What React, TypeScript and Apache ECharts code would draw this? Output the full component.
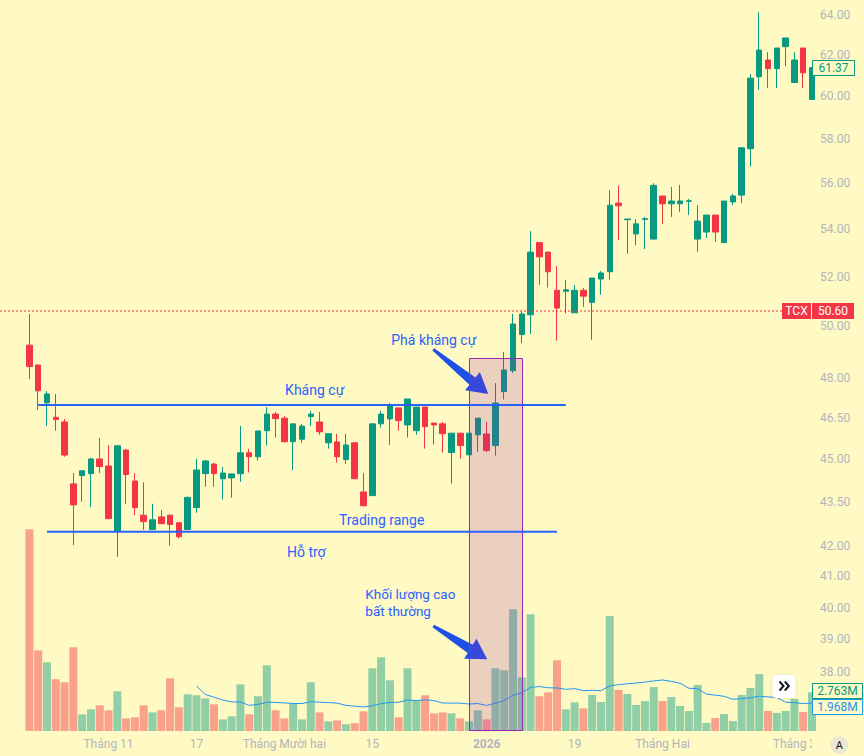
import React, { useEffect, useRef } from "react";
import * as echarts from "echarts";

// ---------------- DATA ----------------
const DATES: string[] = [
  "2025-10-21", "2025-10-22", "2025-10-23", "2025-10-24", "2025-10-27", "2025-10-28", "2025-10-29", "2025-10-30", "2025-10-31",
  "2025-11-03", "2025-11-04", "2025-11-05", "2025-11-06", "2025-11-07", "2025-11-10", "2025-11-11", "2025-11-12", "2025-11-13", "2025-11-14",
  "2025-11-17", "2025-11-18", "2025-11-19", "2025-11-20", "2025-11-21", "2025-11-24", "2025-11-25", "2025-11-26", "2025-11-27", "2025-11-28",
  "2025-12-01", "2025-12-02", "2025-12-03", "2025-12-04", "2025-12-05", "2025-12-08", "2025-12-09", "2025-12-10", "2025-12-11", "2025-12-12",
  "2025-12-15", "2025-12-16", "2025-12-17", "2025-12-18", "2025-12-19", "2025-12-22", "2025-12-23", "2025-12-24", "2025-12-25", "2025-12-26",
  "2025-12-29", "2025-12-30", "2025-12-31",
  "2026-01-05", "2026-01-06", "2026-01-07", "2026-01-08", "2026-01-09", "2026-01-12", "2026-01-13", "2026-01-14", "2026-01-15", "2026-01-16",
  "2026-01-19", "2026-01-20", "2026-01-21", "2026-01-22", "2026-01-23", "2026-01-26", "2026-01-27", "2026-01-28", "2026-01-29", "2026-01-30",
  "2026-02-02", "2026-02-03", "2026-02-04", "2026-02-05", "2026-02-06", "2026-02-09", "2026-02-10", "2026-02-11", "2026-02-12", "2026-02-13",
  "2026-02-23", "2026-02-24", "2026-02-25", "2026-02-26", "2026-02-27", "2026-03-02", "2026-03-03", "2026-03-04",
];

const OPEN: number[] = [
  49.25, 48.48, 47.05, 46.51, 46.34, 44.12, 44.41, 44.48, 45.0, 44.75,
  42.5, 45.32, 44.22, 43.04, 42.55, 42.98, 43.04, 42.78, 42.55, 43.3,
  44.48, 44.82, 44.3, 44.33, 44.48, 45.22, 45.08, 46.02, 46.63, 46.48,
  45.62, 45.71, 46.54, 46.34, 45.58, 45.61, 44.98, 45.58, 43.84, 43.71,
  46.27, 46.45, 46.86, 46.23, 46.02, 46.89, 46.3, 46.27, 45.23, 45.93,
  45.15, 45.87, 45.9, 45.48, 47.47, 48.26, 49.67, 50.45, 53.42, 53.02,
  51.44, 51.4, 50.53, 51.44, 50.95, 51.9, 52.2, 55.12, 54.4, 53.79,
  54.41, 53.57, 55.43, 55.09, 55.09, 55.2, 53.57, 53.87, 54.6, 53.42,
  55.17, 55.47, 57.55, 60.93, 61.74, 61.32, 62.4, 60.65, 62.33, 59.84,
];
const HIGH: number[] = [
  50.48, 48.5, 47.49, 47.38, 46.45, 44.5, 44.6, 45.04, 45.76, 45.5,
  45.5, 45.36, 44.5, 44.18, 43.43, 43.22, 43.04, 42.78, 43.68, 45.0,
  44.96, 44.86, 44.72, 44.47, 46.19, 45.36, 46.01, 46.89, 46.71, 46.56,
  46.27, 46.27, 46.75, 46.71, 45.91, 45.9, 45.9, 45.58, 44.5, 46.27,
  46.75, 47.04, 46.86, 47.19, 46.89, 46.89, 46.3, 46.34, 45.93, 45.93,
  45.93, 46.48, 46.34, 47.79, 48.98, 50.48, 50.61, 53.91, 53.42, 53.02,
  52.43, 51.86, 51.65, 51.53, 51.94, 52.23, 55.69, 55.9, 54.43, 54.43,
  54.52, 55.99, 55.43, 55.83, 55.92, 55.3, 55.03, 54.6, 54.6, 55.21,
  55.52, 57.59, 61.05, 64.13, 62.13, 62.33, 62.83, 62.13, 62.33, 61.37,
];
const LOW: number[] = [
  47.94, 46.78, 46.19, 46.02, 45.08, 42.03, 43.5, 43.32, 44.5, 42.9,
  41.64, 43.43, 43.04, 42.54, 42.54, 42.74, 42.01, 42.25, 42.55, 43.12,
  44.02, 44.02, 43.58, 43.64, 44.19, 44.52, 44.94, 45.48, 45.77, 45.58,
  44.61, 45.58, 46.19, 45.87, 45.37, 44.87, 44.83, 44.29, 43.35, 43.7,
  46.13, 45.5, 46.02, 45.77, 45.87, 45.37, 45.52, 45.23, 44.13, 45.01,
  45.15, 45.26, 45.25, 45.12, 47.17, 48.18, 49.33, 49.69, 51.66, 51.55,
  49.42, 50.51, 50.53, 50.77, 49.46, 51.26, 51.87, 53.53, 52.95, 53.31,
  53.15, 53.57, 54.22, 54.52, 54.73, 54.6, 53.02, 53.62, 53.45, 53.42,
  55.03, 55.12, 56.74, 60.29, 60.38, 60.38, 61.44, 60.65, 60.38, 59.84,
];
const CLOSE: number[] = [
  48.42, 47.5, 47.38, 46.43, 45.14, 43.39, 44.58, 45.0, 44.73, 42.92,
  45.47, 44.45, 43.3, 42.82, 42.88, 42.75, 42.72, 42.31, 43.65, 44.61,
  44.93, 44.48, 44.5, 44.47, 45.22, 45.08, 46.01, 46.63, 46.46, 45.62,
  46.27, 46.19, 46.63, 45.98, 45.91, 45.08, 45.5, 44.3, 43.36, 46.27,
  46.63, 46.97, 46.39, 47.19, 46.89, 46.17, 46.23, 45.91, 45.93, 45.48,
  45.93, 46.48, 45.3, 47.04, 48.29, 50.08, 50.48, 53.02, 52.82, 52.2,
  50.72, 51.46, 51.44, 51.2, 51.94, 52.15, 55.03, 55.0, 54.43, 54.22,
  54.44, 55.9, 55.09, 55.21, 55.21, 55.22, 54.34, 54.6, 53.87, 55.21,
  55.43, 57.59, 60.86, 62.23, 61.32, 62.33, 62.83, 61.74, 61.12, 61.37,
];
// volume in millions of shares
const VOLUME: number[] = [
  14.4, 5.76, 4.9, 3.69, 3.48, 5.98, 1.19, 1.55, 1.83, 1.48,
  2.83, 0.9, 0.98, 1.83, 1.33, 1.48, 3.76, 1.69, 2.62, 2.55,
  2.33, 1.9, 0.83, 1.05, 3.33, 1.19, 2.48, 4.69, 1.48, 0.9,
  1.98, 0.83, 3.48, 1.33, 0.69, 0.76, 0.48, 0.55, 1.4, 4.48,
  5.26, 3.62, 0.98, 4.48, 2.19, 2.55, 1.26, 1.33, 1.26, 0.9,
  0.69, 1.48, 0.83, 4.48, 4.33, 8.69, 3.83, 8.33, 2.48, 2.76,
  5.05, 1.55, 2.05, 1.62, 2.57, 2.07, 8.21, 2.93, 2.64, 1.86,
  2.14, 3.14, 2.14, 2.43, 1.79, 1.43, 3.29, 0.57, 0.93, 1.21,
  0.71, 2.57, 3.07, 4.07, 1.43, 1.29, 1.43, 2.29, 1.36, 2.763,
];
const PRICE_TICKS: number[] = [38, 39, 40, 41, 42, 43.5, 45, 46.5, 48, 50, 52, 54, 56, 58, 60, 62, 64];
const TIME_LABELS: Record<string, string> = {
  "2025-11-03": "Tháng 11",
  "2025-11-17": "17",
  "2025-12-01": "Tháng Mười hai",
  "2025-12-15": "15",
  "2026-01-05": "2026",
  "2026-01-19": "19",
  "2026-02-02": "Tháng Hai",
  "2026-03-02": "Tháng 3",
};
const COMPARE_SYMBOL = "TCX";
const COMPARE_PRICE = 50.6;
const VOLUME_LAST_LABEL = "2.763M";
const VOLUME_MA_LABEL = "1.968M";
const MA_PERIOD = 20;
const PRICE_AXIS_MIN = 36.27;
const PRICE_AXIS_MAX = 64.75;
const VOLUME_AXIS_MAX = 52.2;
const RESISTANCE = { from: "2025-10-22", to: "2026-01-16", price: 46.97 };
const SUPPORT = { from: "2025-10-23", to: "2026-01-15", price: 42.48 };
const BREAKOUT_BOX = { from: "2025-12-30", to: "2026-01-09", top: 48.74, bottom: 36.3 };

// ---------------- STYLE ----------------
const BG = "#FFF9C4";
const UP = "#089981";
const DOWN = "#F23645";
const UP_VOL = "rgba(8,153,129,0.45)";
const DOWN_VOL = "rgba(242,54,69,0.45)";
const AXIS_TEXT = "#B2B5BE";
const BLUE = "#2962FF";
const ARROW_BLUE = "#1E50E6";
const MA_BLUE = "#2196F3";
const FONT = "Roboto";
const PAD = 3;
const GRID_LEFT = 3;
const GRID_RIGHT = 52;
const GRID_BOTTOM = 25;
const W = 864;
const H = 756;
const PLOT_RIGHT = W - GRID_RIGHT;

function arrowPoints(tail: number[], tip: number[], headLen: number, headHalf: number, tailHalf: number, neckHalf: number) {
  const dx = tip[0] - tail[0];
  const dy = tip[1] - tail[1];
  const L = Math.hypot(dx, dy);
  const ux = dx / L, uy = dy / L;
  const nx = -uy, ny = ux;
  const bx = tip[0] - ux * headLen, by = tip[1] - uy * headLen;
  return [
    [tail[0] + nx * tailHalf, tail[1] + ny * tailHalf],
    [bx + nx * neckHalf, by + ny * neckHalf],
    [bx + nx * headHalf, by + ny * headHalf],
    [tip[0], tip[1]],
    [bx - nx * headHalf, by - ny * headHalf],
    [bx - nx * neckHalf, by - ny * neckHalf],
    [tail[0] - nx * tailHalf, tail[1] - ny * tailHalf],
  ];
}

export default function App() {
  const ref = useRef<HTMLDivElement>(null);

  useEffect(() => {
    document.body.style.margin = "0";
    document.body.style.background = BG;
    const chart = echarts.init(ref.current as HTMLDivElement, null, { renderer: "svg" });

    const pads = Array.from({ length: PAD }, (_, i) => `pad${i}`);
    const cats = [...pads, ...DATES];
    const candleData = [
      ...pads.map(() => ["-", "-", "-", "-"]),
      ...DATES.map((_, i) => [Math.log(OPEN[i]), Math.log(CLOSE[i]), Math.log(LOW[i]), Math.log(HIGH[i])]),
    ];
    const volData = [
      ...pads.map(() => "-"),
      ...VOLUME.map((v, i) => ({ value: v, itemStyle: { color: CLOSE[i] >= OPEN[i] ? UP_VOL : DOWN_VOL } })),
    ];
    const maData = [
      ...pads.map(() => "-"),
      ...VOLUME.map((_, i) => {
        if (i < MA_PERIOD - 1) return "-";
        let s = 0;
        for (let k = i - MA_PERIOD + 1; k <= i; k++) s += VOLUME[k];
        return s / MA_PERIOD;
      }),
    ];
    const boxData = [[
      DATES.indexOf(BREAKOUT_BOX.from) + PAD,
      DATES.indexOf(BREAKOUT_BOX.to) + PAD,
      Math.log(BREAKOUT_BOX.top),
      Math.log(BREAKOUT_BOX.bottom),
    ]];

    const option: any = {
      animation: false,
      backgroundColor: BG,
      textStyle: { fontFamily: FONT },
      grid: [
        { left: GRID_LEFT, right: GRID_RIGHT, top: 0, bottom: GRID_BOTTOM },
        { left: GRID_LEFT, right: GRID_RIGHT, top: 0, bottom: GRID_BOTTOM },
      ],
      xAxis: [
        {
          type: "category", gridIndex: 0, data: cats, boundaryGap: false,
          axisLine: { show: false }, axisTick: { show: false }, splitLine: { show: false },
          axisLabel: {
            interval: 0, margin: 7, color: AXIS_TEXT, fontSize: 12, fontFamily: FONT, hideOverlap: false,
            formatter: (v: string) => {
              const t = TIME_LABELS[v];
              if (!t) return "";
              return t === "2026" ? "{b|2026}" : t;
            },
            rich: { b: { fontWeight: "bold", color: AXIS_TEXT, fontSize: 12, fontFamily: FONT } },
          },
        },
        { type: "category", gridIndex: 1, data: cats, boundaryGap: false, show: false },
      ],
      yAxis: [
        {
          type: "value", gridIndex: 0, position: "right",
          min: Math.log(PRICE_AXIS_MIN), max: Math.log(PRICE_AXIS_MAX),
          axisLine: { show: false }, axisTick: { show: false }, splitLine: { show: false },
          axisLabel: {
            customValues: PRICE_TICKS.map((p) => Math.log(p)),
            formatter: (v: number) => Math.exp(v).toFixed(2),
            color: AXIS_TEXT, fontSize: 12, fontFamily: FONT, margin: 8,
          },
        },
        { type: "value", gridIndex: 1, min: 0, max: VOLUME_AXIS_MAX, show: false },
      ],
      series: [
        {
          type: "bar", name: "Volume", xAxisIndex: 1, yAxisIndex: 1, data: volData,
          barWidth: 8, z: 2, clip: true, silent: true,
        },
        {
          type: "line", name: "Volume MA", xAxisIndex: 1, yAxisIndex: 1, data: maData,
          symbol: "none", z: 3, clip: true, silent: true,
          lineStyle: { color: MA_BLUE, width: 1 },
        },
        {
          type: "candlestick", name: "Price", xAxisIndex: 0, yAxisIndex: 0, data: candleData,
          barWidth: 6, z: 3, clip: true, silent: true,
          itemStyle: { color: UP, color0: DOWN, borderColor: UP, borderColor0: DOWN, borderWidth: 1 },
        },
        {
          type: "custom", name: "Box", xAxisIndex: 0, yAxisIndex: 0, data: boxData, z: 5, silent: true,
          encode: { x: [0, 1], y: [2, 3] },
          renderItem: (_p: any, api: any) => {
            const a = api.coord([api.value(0), api.value(2)]);
            const b = api.coord([api.value(1), api.value(3)]);
            return {
              type: "rect",
              shape: { x: Math.round(a[0]) + 0.5, y: Math.round(a[1]) + 0.5, width: Math.round(b[0] - a[0]), height: Math.round(b[1] - a[1]) },
              style: { fill: "rgba(156,39,176,0.2)", stroke: "#9C27B0", lineWidth: 1 },
            };
          },
        },
      ],
    };
    chart.setOption(option);

    const lastClose = CLOSE[CLOSE.length - 1];
    const lastVol = VOLUME[VOLUME.length - 1];
    const yCmp = chart.convertToPixel({ yAxisIndex: 0 }, Math.log(COMPARE_PRICE)) as number;
    const yLast = chart.convertToPixel({ yAxisIndex: 0 }, Math.log(lastClose)) as number;
    const yVol = chart.convertToPixel({ yAxisIndex: 1 }, lastVol) as number;
    const r1 = chart.convertToPixel({ gridIndex: 0 }, [RESISTANCE.from, Math.log(RESISTANCE.price)]) as number[];
    const r2 = chart.convertToPixel({ gridIndex: 0 }, [RESISTANCE.to, Math.log(RESISTANCE.price)]) as number[];
    const s1 = chart.convertToPixel({ gridIndex: 0 }, [SUPPORT.from, Math.log(SUPPORT.price)]) as number[];
    const s2 = chart.convertToPixel({ gridIndex: 0 }, [SUPPORT.to, Math.log(SUPPORT.price)]) as number[];

    const annFont = `14px ${FONT}`;
    const lblFont = `12px ${FONT}`;
    const txt = (text: string, x: number, y: number, opts: any = {}) => ({
      type: "text", x, y, z: opts.z ?? 8, silent: true,
      style: {
        text, fill: opts.fill ?? BLUE, font: opts.font ?? annFont,
        textAlign: opts.align ?? "center", textVerticalAlign: "middle",
      },
    });

    const graphic: any[] = [
      // compare symbol price line
      { type: "line", z: 4, silent: true, shape: { x1: 0, y1: yCmp, x2: PLOT_RIGHT, y2: yCmp }, style: { stroke: DOWN, lineWidth: 1, lineDash: [2, 2] } },
      // resistance & support
      { type: "line", z: 7, silent: true, shape: { x1: r1[0], y1: r1[1], x2: r2[0], y2: r2[1] }, style: { stroke: BLUE, lineWidth: 2 } },
      { type: "line", z: 7, silent: true, shape: { x1: s1[0], y1: s1[1], x2: s2[0], y2: s2[1] }, style: { stroke: BLUE, lineWidth: 2 } },
      // annotation texts
      txt("Phá kháng cự", 433.8, 339.5),
      txt("Kháng cự", 314.7, 390),
      txt("Trading range", 381.7, 519.5),
      txt("Hỗ trợ", 306.3, 552),
      txt("Khối lượng cao", 365.3, 593.5, { align: "left", font: `13.5px ${FONT}` }),
      txt("bất thường", 365.3, 610.5, { align: "left", font: `13.5px ${FONT}` }),
      // arrows
      { type: "polygon", z: 4, silent: true, shape: { points: arrowPoints([433.3, 349.3], [488.3, 394], 20.4, 11.7, 1.4, 4.8) }, style: { fill: ARROW_BLUE } },
      { type: "polygon", z: 4, silent: true, shape: { points: arrowPoints([433.3, 626], [487.3, 659.3], 20, 11.8, 1.4, 4.8) }, style: { fill: ARROW_BLUE } },
      // compare symbol label
      { type: "rect", z: 20, silent: true, shape: { x: 782, y: yCmp - 8, width: 29, height: 16 }, style: { fill: DOWN } },
      txt(COMPARE_SYMBOL, 796.5, yCmp, { fill: "#FFFFFF", font: lblFont, z: 21 }),
      { type: "rect", z: 20, silent: true, shape: { x: 812, y: yCmp - 8, width: 42, height: 16 }, style: { fill: DOWN } },
      txt(COMPARE_PRICE.toFixed(2), 833, yCmp, { fill: "#FFFFFF", font: lblFont, z: 21 }),
      // last price label
      { type: "rect", z: 20, silent: true, shape: { x: 812.5, y: Math.round(yLast) - 7.5, width: 42, height: 15 }, style: { fill: BG, stroke: UP, lineWidth: 1 } },
      txt(lastClose.toFixed(2), 833.5, yLast, { fill: UP, font: lblFont, z: 21 }),
      // volume labels
      { type: "rect", z: 20, silent: true, shape: { x: 812.5, y: Math.round(yVol) - 8.5, width: 50, height: 15 }, style: { fill: BG, stroke: UP, lineWidth: 1 } },
      txt(VOLUME_LAST_LABEL, 837.5, Math.round(yVol) - 1, { fill: UP, font: lblFont, z: 21 }),
      { type: "rect", z: 20, silent: true, shape: { x: 812.5, y: Math.round(yVol) + 7.5, width: 50, height: 15 }, style: { fill: BG, stroke: MA_BLUE, lineWidth: 1 } },
      txt(VOLUME_MA_LABEL, 837.5, Math.round(yVol) + 15, { fill: MA_BLUE, font: lblFont, z: 21 }),
      // cover for time labels under the price scale
      { type: "rect", z: 15, silent: true, shape: { x: PLOT_RIGHT, y: H - GRID_BOTTOM + 2, width: GRID_RIGHT, height: GRID_BOTTOM }, style: { fill: BG } },
      // "A" auto-scale button
      { type: "circle", z: 16, silent: true, shape: { cx: 839.3, cy: 745, r: 9 }, style: { fill: "#ECE8D2" } },
      txt("A", 839.3, 745.5, { fill: "#131722", font: `11px ${FONT}`, z: 17 }),
      // scroll-to-realtime button
      { type: "rect", z: 16, silent: true, shape: { x: 772.5, y: 675, width: 23, height: 23, r: 4 }, style: { fill: "#FFFFFF", shadowBlur: 3, shadowColor: "rgba(0,0,0,0.12)" } },
      { type: "polyline", z: 17, silent: true, shape: { points: [[779.5, 681.5], [783.5, 686], [779.5, 690.5]] }, style: { stroke: "#131722", lineWidth: 2, fill: null } },
      { type: "polyline", z: 17, silent: true, shape: { points: [[784.8, 681.5], [788.8, 686], [784.8, 690.5]] }, style: { stroke: "#131722", lineWidth: 2, fill: null } },
    ];
    chart.setOption({ graphic });

    return () => chart.dispose();
  }, []);

  return <div ref={ref} style={{ width: W, height: H }} />;
}
